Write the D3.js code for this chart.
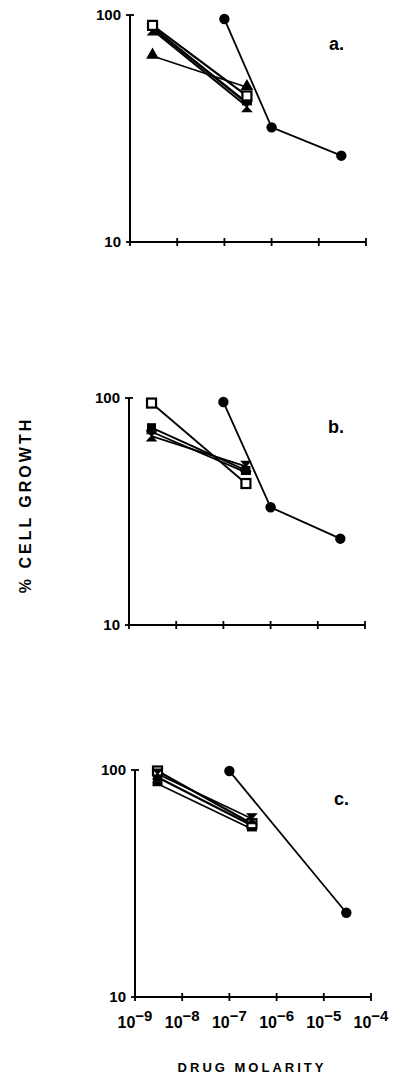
<!DOCTYPE html>
<html>
<head>
<meta charset="utf-8">
<script src="https://cdn.jsdelivr.net/npm/d3@7"></script>
<style>
  html, body { margin: 0; padding: 0; background: #fff; }
  svg { display: block; }
  text { font-family: "Liberation Sans", Arial, sans-serif; font-weight: bold; fill: #000; }
</style>
</head>
<body>
<svg id="chart" width="403" height="1075"></svg>
<script>
// ---- data ----
const xTickExps = [-9, -8, -7, -6, -5, -4];
const yTickValues = [10, 100];
const panelLabels = ["a.", "b.", "c."];

const lowConc = [3e-9, 3e-7];
const highConcAB = [1e-7, 1e-6, 3e-5];
const highConcC = [1e-7, 3e-5];

// panel a
const aOpenSquare = [90, 44];
const aFilledSquare = [88, 41];
const aHourglass = [86, 39.5];
const aTriangle = [66, 48];
const aCircle = [96, 32, 24];

// panel b
const bOpenSquare = [95, 42];
const bFilledSquare = [74, 48];
const bBar = [71, 47];
const bHourglass = [68, 50];
const bCircle = [96, 33, 24];

// panel c
const cOpenSquare = [99, 58];
const cFilledSquare = [93, 57];
const cBar = [87, 55];
const cHourglass = [96, 61];
const cCircle = [99, 23.5];

// ---- layout ----
const panelGeom = [
  { x0: 130, top: 15, bottom: 242 },
  { x0: 129, top: 398, bottom: 625 },
  { x0: 135, top: 770, bottom: 997 }
];
const plotW = 236;

const panels = [
  { label: panelLabels[0], series: [
    { conc: lowConc, vals: aTriangle, sym: "triangle", w: 1.6 },
    { conc: lowConc, vals: aHourglass, sym: "hourglass", w: 2 },
    { conc: lowConc, vals: aFilledSquare, sym: "bar", w: 2.5 },
    { conc: lowConc, vals: aOpenSquare, sym: "openSquare", w: 2.2 },
    { conc: highConcAB, vals: aCircle, sym: "circle", w: 1.8 }
  ]},
  { label: panelLabels[1], series: [
    { conc: lowConc, vals: bHourglass, sym: "hourglass", w: 1.8 },
    { conc: lowConc, vals: bBar, sym: "bar", w: 1.8 },
    { conc: lowConc, vals: bFilledSquare, sym: "filledSquare", w: 2 },
    { conc: lowConc, vals: bOpenSquare, sym: "openSquare", w: 1.8 },
    { conc: highConcAB, vals: bCircle, sym: "circle", w: 1.8 }
  ]},
  { label: panelLabels[2], series: [
    { conc: lowConc, vals: cBar, sym: "bar", w: 1.6 },
    { conc: lowConc, vals: cFilledSquare, sym: "filledSquare", w: 2.2 },
    { conc: lowConc, vals: cOpenSquare, sym: "openSquare", w: 2.2 },
    { conc: lowConc, vals: cHourglass, sym: "hourglass", w: 1.8 },
    { conc: highConcC, vals: cCircle, sym: "circle", w: 1.8 }
  ]}
];

const svg = d3.select("#chart");

function drawMarker(g, sym, x, y) {
  if (sym === "circle") {
    g.append("circle").attr("cx", x).attr("cy", y).attr("r", 5.2).attr("fill", "#000");
  } else if (sym === "openSquare") {
    g.append("rect").attr("x", x - 4.5).attr("y", y - 4.5).attr("width", 9).attr("height", 9)
      .attr("fill", "#fff").attr("stroke", "#000").attr("stroke-width", 2.2);
  } else if (sym === "filledSquare") {
    g.append("rect").attr("x", x - 4.5).attr("y", y - 4.5).attr("width", 9).attr("height", 9).attr("fill", "#000");
  } else if (sym === "bar") {
    g.append("rect").attr("x", x - 5).attr("y", y - 2.5).attr("width", 10).attr("height", 5).attr("fill", "#000");
  } else if (sym === "triangle") {
    g.append("path").attr("transform", `translate(${x},${y - 1})`)
      .attr("d", d3.symbol(d3.symbolTriangle, 70)()).attr("fill", "#000");
  } else if (sym === "hourglass") {
    g.append("path")
      .attr("d", `M${x - 4.5},${y - 5}L${x + 4.5},${y - 5}L${x},${y}L${x + 4.5},${y + 5}L${x - 4.5},${y + 5}L${x},${y}Z`)
      .attr("fill", "#000").attr("stroke", "#000").attr("stroke-width", 1.2);
  }
}

panels.forEach((p, i) => {
  const gm = panelGeom[i];
  const x = d3.scaleLog().domain([1e-9, 1e-4]).range([gm.x0, gm.x0 + plotW]);
  const y = d3.scaleLog().domain([10, 100]).range([gm.bottom, gm.top]);
  const g = svg.append("g");

  // y axis
  g.append("line").attr("x1", gm.x0).attr("x2", gm.x0).attr("y1", gm.top).attr("y2", gm.bottom)
    .attr("stroke", "#000").attr("stroke-width", 2);
  yTickValues.forEach(v => {
    g.append("line").attr("x1", gm.x0 - 4).attr("x2", gm.x0 + 4).attr("y1", y(v)).attr("y2", y(v))
      .attr("stroke", "#000").attr("stroke-width", 1.8);
    g.append("text").attr("x", gm.x0 - 9).attr("y", y(v)).attr("dy", "0.36em")
      .attr("text-anchor", "end").attr("font-size", 15).text(v);
  });

  // x axis
  g.append("line").attr("x1", gm.x0).attr("x2", gm.x0 + plotW).attr("y1", gm.bottom).attr("y2", gm.bottom)
    .attr("stroke", "#000").attr("stroke-width", 2);
  xTickExps.forEach(e => {
    const xx = x(Math.pow(10, e));
    g.append("line").attr("x1", xx).attr("x2", xx).attr("y1", gm.bottom - 4).attr("y2", gm.bottom + 4)
      .attr("stroke", "#000").attr("stroke-width", 1.8);
    if (i === 2) {
      const t = g.append("text").attr("x", xx).attr("y", gm.bottom + 31)
        .attr("text-anchor", "middle").attr("font-size", 16).attr("font-weight", "normal");
      t.append("tspan").text("10");
      t.append("tspan").attr("dy", -7).attr("font-size", 15).attr("font-weight", "bold").text("\u2212" + Math.abs(e));
    }
  });

  // series
  p.series.forEach(s => {
    const pts = s.conc.map((c, k) => [x(c), y(s.vals[k])]);
    g.append("path").attr("d", d3.line()(pts)).attr("fill", "none")
      .attr("stroke", "#000").attr("stroke-width", s.w);
  });
  p.series.forEach(s => {
    s.conc.forEach((c, k) => drawMarker(g, s.sym, x(c), y(s.vals[k])));
  });

  // panel label
  g.append("text").attr("x", gm.x0 + 199).attr("y", gm.top + 35)
    .attr("font-size", 18).text(p.label);
});

// axis titles
svg.append("text").attr("transform", "translate(31,505) rotate(-90)")
  .attr("text-anchor", "middle").attr("font-size", 16).attr("letter-spacing", 3)
  .text("% CELL GROWTH");
svg.append("text").attr("x", 252).attr("y", 1072)
  .attr("text-anchor", "middle").attr("font-size", 13).attr("letter-spacing", 3)
  .text("DRUG MOLARITY");
</script>
</body>
</html>
